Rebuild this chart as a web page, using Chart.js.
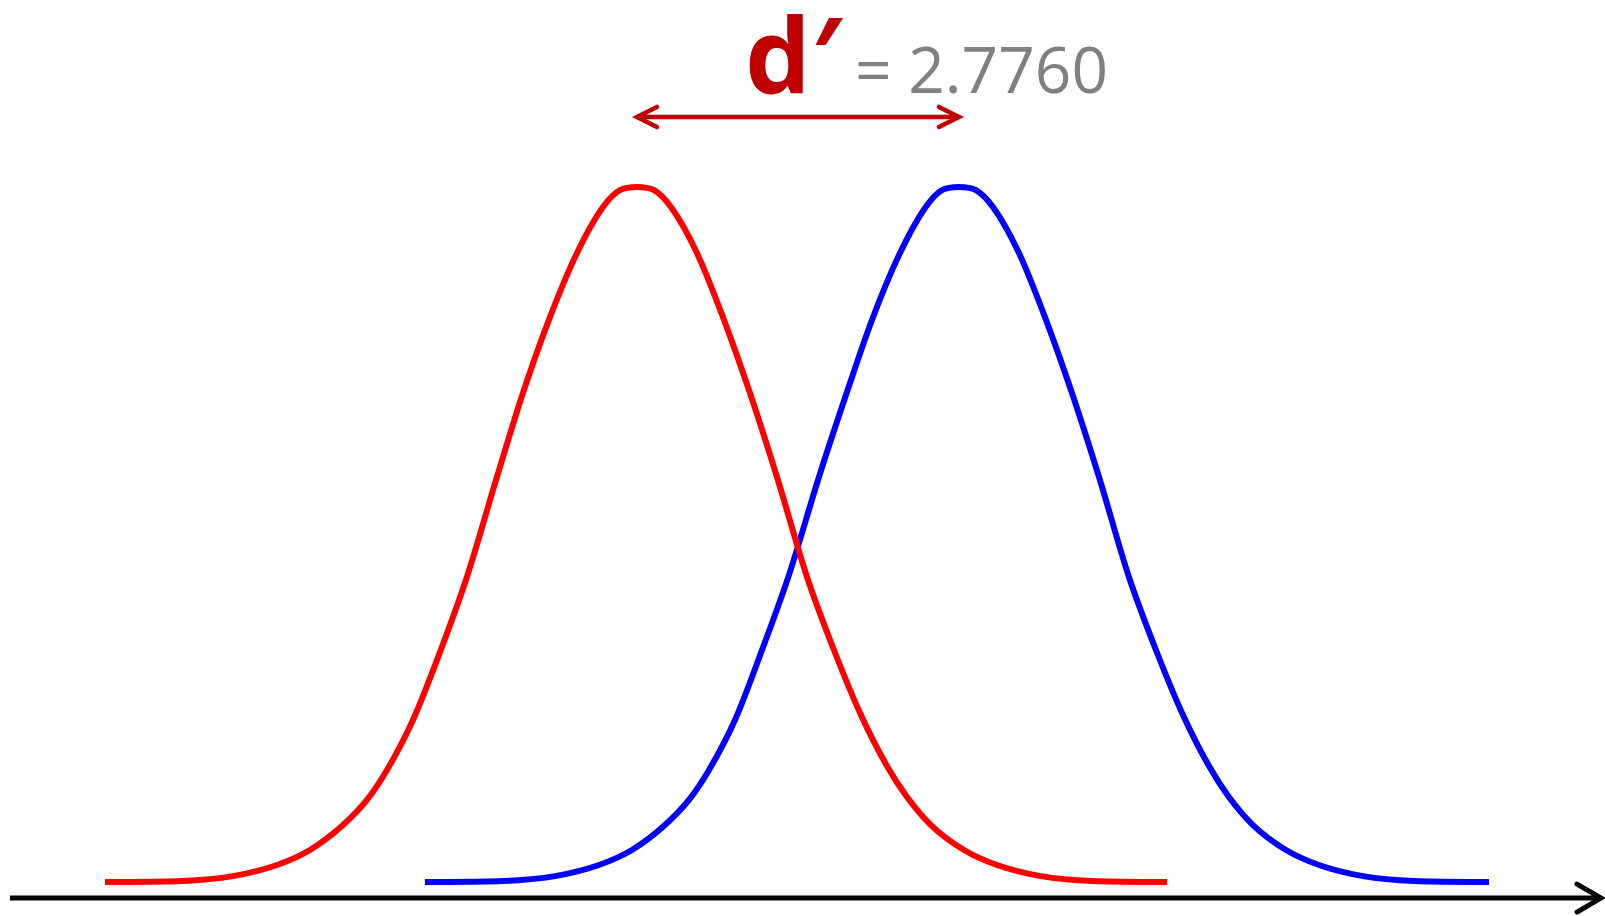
<!DOCTYPE html>
<html>
<head>
<meta charset="utf-8">
<script src="https://cdn.jsdelivr.net/npm/chart.js@4.4.0/dist/chart.umd.min.js"></script>
<style>
  html, body { margin: 0; padding: 0; background: #fff; }
  #wrap { width: 1605px; height: 916px; position: relative; }
</style>
</head>
<body>
<div id="wrap"><canvas id="myChart"></canvas></div>
<script>
// d' value shown in the title
const dPrime = 2.776;
const dPrimeLabel = "2.7760";

// noise distribution (red): x in SD units, y density
const noiseX = [-4.586, -3.922, -3.483, -3.103, -2.819, -2.534, -2.328, -2.155, -1.931, -1.698,
  -1.466, -1.207, -0.983, -0.750, -0.517, -0.293, -0.147, 0, 0.147, 0.293,
  0.517, 0.741, 0.974, 1.207, 1.466, 1.698, 1.931, 2.155, 2.328, 2.534,
  2.819, 3.103, 3.483, 3.922, 4.569];
const noiseY = [0, 0.0006, 0.0034, 0.0098, 0.0184, 0.0327, 0.0471, 0.0643, 0.0930, 0.1320,
  0.1751, 0.2325, 0.2807, 0.3243, 0.3611, 0.3875, 0.3972, 0.3990, 0.3972, 0.3875,
  0.3611, 0.3243, 0.2807, 0.2325, 0.1751, 0.1332, 0.0959, 0.0666, 0.0488, 0.0327,
  0.0184, 0.0098, 0.0034, 0.0006, 0];

// signal distribution (blue)
const signalX = [-1.828, -1.147, -0.707, -0.328, -0.043, 0.241, 0.448, 0.621, 0.845, 1.078,
  1.310, 1.569, 1.793, 2.026, 2.259, 2.483, 2.629, 2.776, 2.922, 3.069,
  3.293, 3.517, 3.750, 3.983, 4.241, 4.474, 4.707, 4.931, 5.103, 5.310,
  5.595, 5.879, 6.259, 6.698, 7.345];
const signalY = [0, 0.0006, 0.0034, 0.0098, 0.0184, 0.0327, 0.0471, 0.0643, 0.0930, 0.1332,
  0.1762, 0.2325, 0.2778, 0.3226, 0.3599, 0.3869, 0.3972, 0.3990, 0.3972, 0.3875,
  0.3611, 0.3243, 0.2807, 0.2325, 0.1751, 0.1332, 0.0959, 0.0666, 0.0488, 0.0327,
  0.0184, 0.0098, 0.0034, 0.0006, 0];

// axis range (SD units / density)
const xMin = -5.491, xMax = 8.345;
const yMin = -0.0195, yMax = 0.5063;
const axisY = -0.0092;   // the black decision axis
const arrowY = 0.4392;   // the d' double arrow

function toPoints(xs, ys) {
  let pts = [];
  for (let i = 0; i < xs.length; i++) {
    pts.push({ x: xs[i], y: ys[i] });
  }
  return pts;
}

function arrowHead(ctx, tipX, tipY, dir, len, half) {
  ctx.beginPath();
  ctx.moveTo(tipX - dir * len, tipY - half);
  ctx.lineTo(tipX, tipY);
  ctx.lineTo(tipX - dir * len, tipY + half);
  ctx.stroke();
}

// draws the axis arrow, the d' arrow and the label
const decorations = {
  id: "decorations",
  afterDatasetsDraw(chart) {
    let ctx = chart.ctx;
    let xs = chart.scales.x;
    let ys = chart.scales.y;
    let area = chart.chartArea;
    ctx.save();
    ctx.lineCap = "butt";
    ctx.lineJoin = "miter";

    // bottom axis
    let ay = ys.getPixelForValue(axisY);
    ctx.strokeStyle = "#000";
    ctx.lineWidth = 5;
    ctx.beginPath();
    ctx.moveTo(area.left + 10, ay);
    ctx.lineTo(area.right - 4, ay);
    ctx.stroke();
    ctx.lineCap = "round";
    arrowHead(ctx, area.right - 4, ay, 1, 24, 14);

    // d' arrow between the two means
    let x0 = xs.getPixelForValue(0);
    let x1 = xs.getPixelForValue(dPrime);
    let y = ys.getPixelForValue(arrowY);
    ctx.strokeStyle = "#C00000";
    ctx.lineWidth = 4.5;
    ctx.lineCap = "butt";
    ctx.beginPath();
    ctx.moveTo(x0 + 1, y);
    ctx.lineTo(x1 - 1, y);
    ctx.stroke();
    ctx.lineCap = "round";
    arrowHead(ctx, x0, y, -1, 20, 10);
    arrowHead(ctx, x1, y, 1, 20, 10);

    // label
    let mid = (x0 + x1) / 2;
    ctx.textBaseline = "alphabetic";
    ctx.textAlign = "left";
    ctx.fillStyle = "#C00000";
    ctx.font = "bold 104px 'Open Sans'";
    ctx.fillText("d\u2032", mid - 53, y - 24);
    ctx.fillStyle = "#808080";
    ctx.font = "64px 'Open Sans'";
    ctx.fillText("= " + dPrimeLabel, mid + 57, y - 24);
    ctx.restore();
  },
};

let ctx = document.getElementById("myChart").getContext("2d");
let myChart = new Chart(ctx, {
  type: "scatter",
  data: {
    datasets: [
      {
        label: "noise",
        data: toPoints(noiseX, noiseY),
        showLine: true,
        borderColor: "#FF0000",
        borderWidth: 6,
        pointRadius: 0,
        cubicInterpolationMode: "monotone",
      },
      {
        label: "signal",
        data: toPoints(signalX, signalY),
        showLine: true,
        borderColor: "#0000FF",
        borderWidth: 6,
        pointRadius: 0,
        cubicInterpolationMode: "monotone",
      },
    ],
  },
  options: {
    responsive: true,
    maintainAspectRatio: false,
    animation: false,
    layout: { padding: 0 },
    plugins: {
      legend: { display: false },
      tooltip: { enabled: false },
    },
    scales: {
      x: { type: "linear", min: xMin, max: xMax, display: false },
      y: { type: "linear", min: yMin, max: yMax, display: false },
    },
  },
  plugins: [decorations],
});
</script>
</body>
</html>
